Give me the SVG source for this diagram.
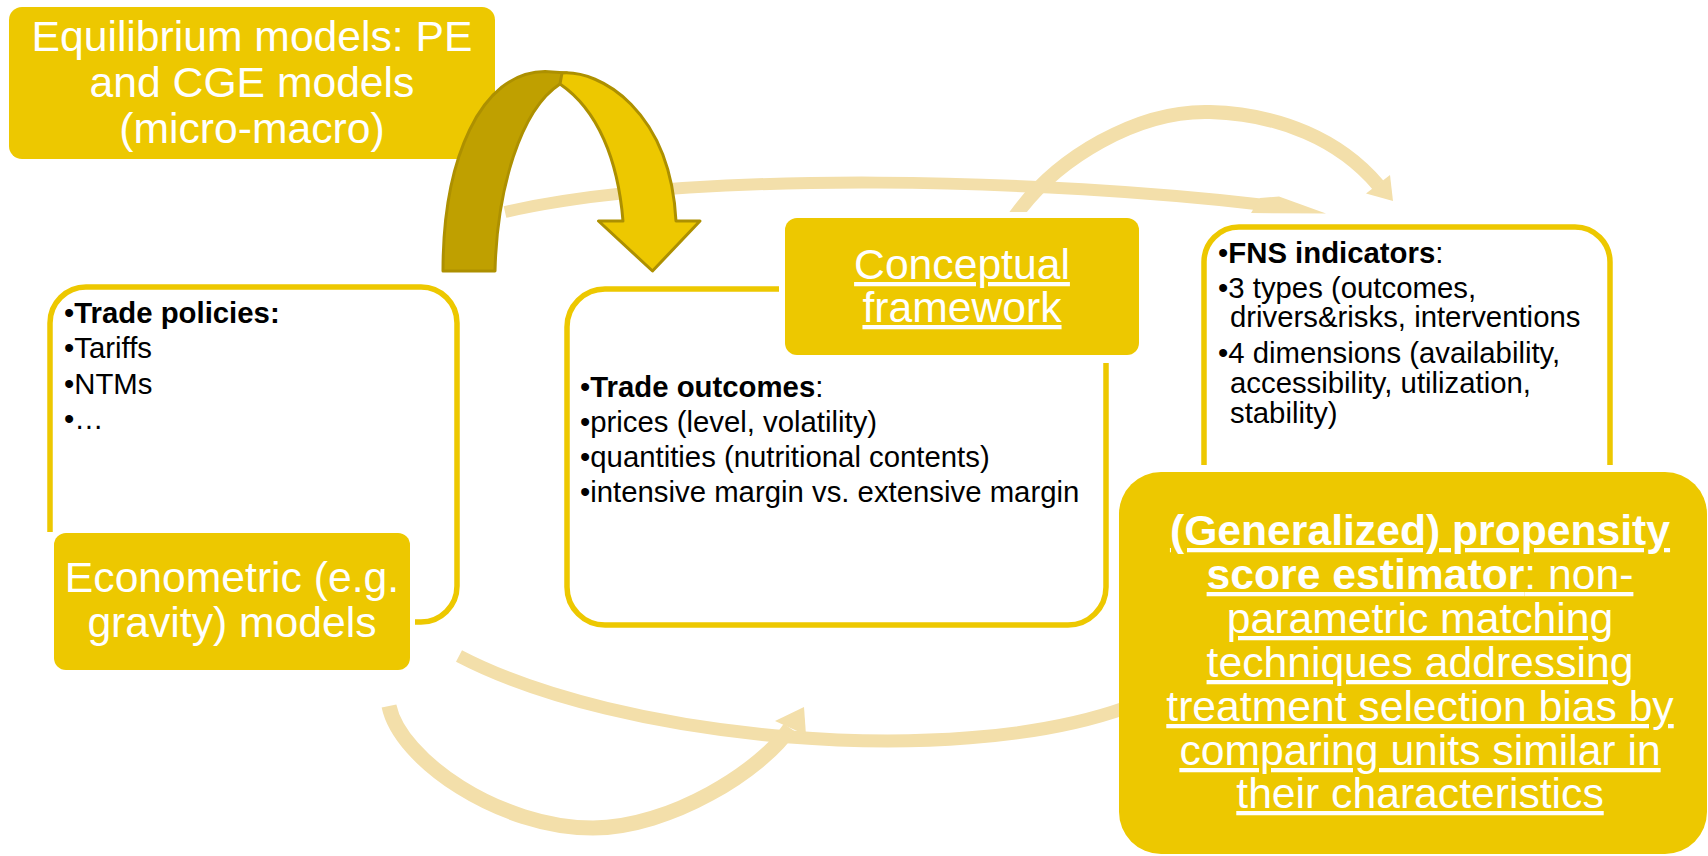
<svg xmlns="http://www.w3.org/2000/svg" width="1708" height="856" viewBox="0 0 1708 856">
<defs>
<style>
.box{fill:#EDC800;}
.frame{fill:none;stroke:#EDC800;stroke-width:5.5;}
.pale{fill:none;stroke:#F3DFAA;stroke-linecap:butt;}
.head{fill:#F3DFAA;}
.wt{font-family:"Liberation Sans",Arial,sans-serif;font-size:42.67px;fill:#ffffff;text-anchor:middle;}
.bt{font-family:"Liberation Sans",Arial,sans-serif;font-size:29.33px;fill:#000000;}
.b{font-weight:bold;}
.u{text-decoration:underline;}
</style>
<clipPath id="clipTop"><rect x="0" y="0" width="1708" height="212"/></clipPath>
</defs>
<rect width="1708" height="856" fill="#ffffff"/>

<g id="equilibrium">
<rect class="box" x="9" y="7" width="486" height="152" rx="13"/>
<text class="wt"><tspan x="252" y="51">Equilibrium models: PE</tspan><tspan x="252" y="97">and CGE models</tspan><tspan x="252" y="143">(micro-macro)</tspan></text>
</g>

<g id="trade-policies">
<path class="frame" d="M50,532 V323 A36,36 0 0 1 86,287 H421 A36,36 0 0 1 457,323 V586 A36,36 0 0 1 421,622 H415"/>
<text class="bt" x="64" y="323">•<tspan class="b">Trade policies:</tspan></text>
<text class="bt" x="64" y="358">•Tariffs</text>
<text class="bt" x="64" y="394">•NTMs</text>
<text class="bt" x="64" y="429">•…</text>
</g>

<g id="trade-outcomes">
<path class="frame" d="M779,289 H605 A38,38 0 0 0 567,327 V587 A38,38 0 0 0 605,625 H1068 A38,38 0 0 0 1106,587 V363"/>
<text class="bt" x="580" y="397">•<tspan class="b">Trade outcomes</tspan>:</text>
<text class="bt" x="580" y="432">•prices (level, volatility)</text>
<text class="bt" x="580" y="467">•quantities (nutritional contents)</text>
<text class="bt" x="580" y="502">•intensive margin vs. extensive margin</text>
</g>

<g id="fns-indicators">
<path class="frame" d="M1204,465 V262 A35,35 0 0 1 1239,227 H1575 A35,35 0 0 1 1610,262 V465"/>
<text class="bt" x="1218" y="263">•<tspan class="b">FNS indicators</tspan>:</text>
<text class="bt" x="1218" y="298">•3 types (outcomes,</text>
<text class="bt" x="1230" y="327">drivers&amp;risks, interventions</text>
<text class="bt" x="1218" y="363">•4 dimensions (availability,</text>
<text class="bt" x="1230" y="393">accessibility, utilization,</text>
<text class="bt" x="1230" y="423">stability)</text>
</g>

<g id="connectors">
<path class="pale" stroke-width="12" d="M505,212 C700,168 1050,180 1265,205"/>
<polygon class="head" points="1260,198 1279,196.5 1326,213.5 1251,213"/>
<path class="pale" stroke-width="14" clip-path="url(#clipTop)" d="M1011,222 C1055,156 1140,110 1210,112 C1280,114 1340,140 1378,185"/>
<polygon class="head" points="1366,193.5 1393,201 1390,175"/>
<path class="pale" stroke-width="13" d="M459,656 C620,740 950,770 1125,708"/>
<path class="pale" stroke-width="15" d="M389,706 C400,760 500,828 593,828 C670,828 762,770 790,728"/>
<polygon class="head" points="775,721 804,707 806,735"/>
<g id="uturn-arrow" stroke="#AD9000" stroke-width="3" stroke-linejoin="round">
<path d="M443,271 C443,160 480,72 545,71.5 L567,73 L560,84 C520,110 497,190 495,271 Z" fill="#BFA000"/>
<path d="M562,73 C600,70 670,110 676,221 L700,221 L652.5,271 L598.5,221 L623,221 C618,160 598,110 560,84 Z" fill="#EDC800"/>
</g>
</g>

<g id="econometric">
<rect class="box" x="54" y="533" width="356" height="137" rx="12"/>
<text class="wt"><tspan x="232" y="592">Econometric (e.g.</tspan><tspan x="232" y="637">gravity) models</tspan></text>
</g>

<g id="conceptual-framework">
<rect class="box" x="785" y="218" width="354" height="137" rx="12"/>
<text class="wt u"><tspan x="962" y="279">Conceptual</tspan><tspan x="962" y="322">framework</tspan></text>
</g>

<g id="propensity">
<rect class="box" x="1119" y="472" width="588" height="382" rx="42"/>
<text class="wt u" x="1420" y="545"><tspan class="b">(Generalized) propensity</tspan></text>
<text class="wt u" x="1420" y="589"><tspan class="b">score estimator</tspan>: non-</text>
<text class="wt u" x="1420" y="633">parametric matching</text>
<text class="wt u" x="1420" y="677">techniques addressing</text>
<text class="wt u" x="1420" y="721">treatment selection bias by</text>
<text class="wt u" x="1420" y="765">comparing units similar in</text>
<text class="wt u" x="1420" y="808">their characteristics</text>
</g>
</svg>
